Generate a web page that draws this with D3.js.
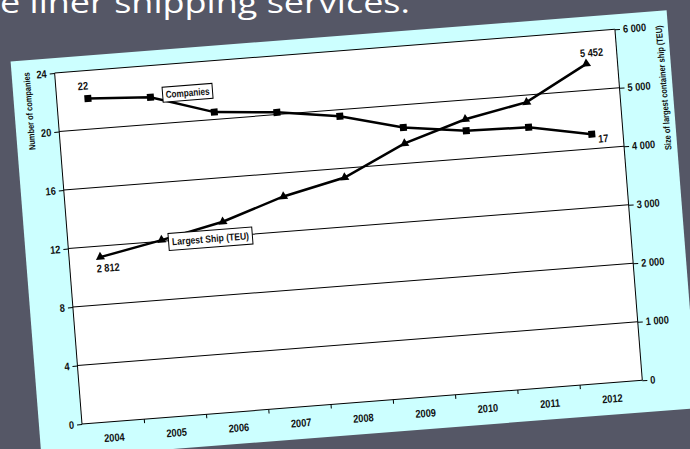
<!DOCTYPE html>
<html><head><meta charset="utf-8">
<script src="https://cdn.jsdelivr.net/npm/d3@7"></script>
<style>
html,body{margin:0;padding:0;background:#555766;overflow:hidden;}
svg{display:block;}
</style></head>
<body>
<script>
const years = ["2004","2005","2006","2007","2008","2009","2010","2011","2012"];
const companies = [22.1, 21.85, 20.5, 20.15, 19.55, 18.45, 17.9, 17.8, 17.0];
const largestShip = [2812, 3020, 3250, 3600, 3840, 4340, 4670, 4880, 5452];
const leftTicks = [0, 4, 8, 12, 16, 20, 24];
const rightTicks = [0, 1000, 2000, 3000, 4000, 5000, 6000];
const rightTickLabels = ["0", "1 000", "2 000", "3 000", "4 000", "5 000", "6 000"];
const leftTitle = "Number of companies";
const rightTitle = "Size of largest container ship (TEU)";
const slideTitle = "e liner shipping services.";

const Wd = 690, Ht = 449;
const svg = d3.select("body").append("svg").attr("width", Wd).attr("height", Ht);
svg.append("rect").attr("width", Wd).attr("height", Ht).attr("fill", "#555766");

// slide title (cut at top, as in the slide)
svg.append("text").attr("x", 0).attr("y", 13)
  .attr("fill", "#ffffff")
  .attr("font-family", "'Open Sans', 'DejaVu Sans', sans-serif")
  .attr("font-size", 30)
  .attr("textLength", 410).attr("lengthAdjust", "spacingAndGlyphs")
  .text(slideTitle);

const W = 562, H = 352;
const font = "'Liberation Sans', Arial, sans-serif";

const g = svg.append("g")
  .attr("transform", "translate(82,424) rotate(-4.46) translate(0,-352)");

// panel
g.append("rect").attr("x", -43).attr("y", -15).attr("width", 658).attr("height", 399)
  .attr("fill", "#ccffff");
g.append("rect").attr("x", 0).attr("y", 0).attr("width", W).attr("height", H)
  .attr("fill", "#ffffff");

const x = d3.scaleBand().domain(years).range([0, W]);
const yL = d3.scaleLinear().domain([0, 24]).range([H, 0]);
const yR = d3.scaleLinear().domain([0, 6000]).range([H, 0]);
const cx = d => x(d) + x.bandwidth() / 2;

// gridlines
g.append("g").selectAll("line").data(leftTicks.filter(t => t > 0)).join("line")
  .attr("x1", 0).attr("x2", W).attr("y1", d => yL(d)).attr("y2", d => yL(d))
  .attr("stroke", "#000").attr("stroke-width", 1);

// axes
const axL = g.append("g").call(d3.axisLeft(yL).tickValues(leftTicks).tickSize(5).tickPadding(3));
const axR = g.append("g").attr("transform", `translate(${W},0)`)
  .call(d3.axisRight(yR).tickValues(rightTicks).tickSize(5).tickPadding(3)
    .tickFormat((d, i) => rightTickLabels[i]));
const axB = g.append("g").attr("transform", `translate(0,${H})`)
  .call(d3.axisBottom(x).tickSize(0).tickPadding(12));
// category boundary ticks
g.append("g").selectAll("line").data(years.slice(1)).join("line")
  .attr("x1", d => x(d)).attr("x2", d => x(d)).attr("y1", H).attr("y2", H + 4)
  .attr("stroke", "#000");

[axL, axR, axB].forEach(a => {
  a.selectAll("path,line").attr("stroke", "#000").attr("stroke-width", 1);
  a.selectAll("text").attr("class", "narrow").attr("font-family", font).attr("font-weight", "bold")
    .attr("font-size", 11).attr("fill", "#111");
});
axB.select(".domain").attr("d", `M0,0H${W}`);
axL.select(".domain").attr("d", `M0,0V${H}`);
axR.select(".domain").attr("d", `M0,0V${H}`);

// axis titles
g.append("text").attr("transform", `translate(-28,36) rotate(-90)`)
  .attr("text-anchor", "middle").attr("dominant-baseline", "central")
  .attr("font-family", font).attr("font-weight", "bold").attr("font-size", 9)
  .attr("textLength", 78).attr("lengthAdjust", "spacingAndGlyphs")
  .attr("fill", "#111").text(leftTitle);
g.append("text").attr("transform", `translate(606,62) rotate(-90)`)
  .attr("text-anchor", "middle").attr("dominant-baseline", "central")
  .attr("font-family", font).attr("font-weight", "bold").attr("font-size", 9)
  .attr("textLength", 125).attr("lengthAdjust", "spacingAndGlyphs")
  .attr("fill", "#111").text(rightTitle);

// lines
const lineL = d3.line().x((d, i) => cx(years[i])).y(d => yL(d));
const lineR = d3.line().x((d, i) => cx(years[i])).y(d => yR(d));
g.append("path").attr("d", lineL(companies)).attr("fill", "none")
  .attr("stroke", "#000").attr("stroke-width", 2.5);
g.append("path").attr("d", lineR(largestShip)).attr("fill", "none")
  .attr("stroke", "#000").attr("stroke-width", 2.5);

// markers
g.append("g").selectAll("rect").data(companies).join("rect")
  .attr("x", (d, i) => cx(years[i]) - 3.5).attr("y", d => yL(d) - 3.5)
  .attr("width", 7).attr("height", 7).attr("fill", "#000");
const tri = d3.symbol().type(d3.symbolTriangle).size(36);
g.append("g").selectAll("path").data(largestShip).join("path")
  .attr("d", tri)
  .attr("transform", (d, i) => `translate(${cx(years[i])},${yR(d)})`)
  .attr("fill", "#000");

// value labels
const lab = (xx, yy, t, anchor) => g.append("text").attr("x", xx).attr("y", yy)
  .attr("class", "narrow")
  .attr("text-anchor", anchor).attr("dominant-baseline", "central")
  .attr("font-family", font).attr("font-weight", "bold").attr("font-size", 11)
  .attr("fill", "#111").text(t);
lab(cx(years[0]) - 4, yL(companies[0]) - 13, "22", "middle");
lab(cx(years[8]) + 6, yL(companies[8]) + 5, "17", "start");
lab(cx(years[0]) + 7, yR(largestShip[0]) + 11, "2 812", "middle");
lab(cx(years[8]) + 6, yR(largestShip[8]) - 11, "5 452", "middle");

// callout boxes
const box = (xc, yc, w, h, t, tl) => {
  g.append("rect").attr("x", xc - w / 2).attr("y", yc - h / 2).attr("width", w).attr("height", h)
    .attr("fill", "#fff").attr("stroke", "#000").attr("stroke-width", 1);
  g.append("text").attr("x", xc).attr("y", yc).attr("text-anchor", "middle")
    .attr("dominant-baseline", "central").attr("font-family", font)
    .attr("textLength", tl).attr("lengthAdjust", "spacingAndGlyphs")
    .attr("font-weight", "bold").attr("font-size", 10).attr("fill", "#111").text(t);
};
box(131, 30, 50, 15, "Companies", 44);
box(142.5, 177.3, 84, 17, "Largest Ship (TEU)", 77);

// condense the Arial-Narrow-like texts
g.selectAll("text.narrow").each(function() {
  const len = this.getComputedTextLength();
  d3.select(this).attr("textLength", len * 0.84).attr("lengthAdjust", "spacingAndGlyphs");
});
</script>
</body></html>
